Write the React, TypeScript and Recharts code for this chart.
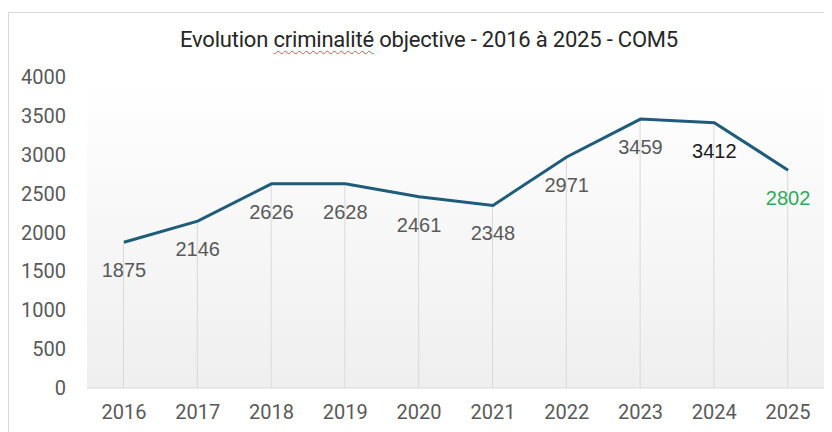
import { ComposedChart, Bar, Line, XAxis, YAxis, CartesianGrid, LabelList } from "recharts";

const years = ["2016", "2017", "2018", "2019", "2020", "2021", "2022", "2023", "2024", "2025"];
const faits = [1875, 2146, 2626, 2628, 2461, 2348, 2971, 3459, 3412, 2802];
const yTicks = [0, 500, 1000, 1500, 2000, 2500, 3000, 3500, 4000];
const labelColors = ["#595959", "#595959", "#595959", "#595959", "#595959", "#595959", "#595959", "#595959", "#1a1a1a", "#2eaa5c"];

const data = years.map((year, i) => ({ year, value: faits[i] }));

const renderLabel = (props: any) => {
    const { x, y, width, value, index } = props;
    const cx = x + (width || 0) / 2;
    return (
        <text
            x={cx}
            y={y + 28}
            textAnchor="middle"
            dominantBaseline="central"
            fontSize={20}
            fontFamily="'Liberation Sans', Arial, sans-serif"
            fill={labelColors[index]}
        >
            {value}
        </text>
    );
};

export default function App() {
    return (
        <div style={{ position: "relative", width: 824, height: 424, overflow: "hidden" }}>

            <div
                style={{
                    position: "absolute",
                    left: 0,
                    top: 4,
                    width: 830,
                    height: 430,
                    borderLeft: "1px solid #d9d9d9",
                    borderTop: "1px solid #d9d9d9"
                }}
            />

            <div
                style={{
                    position: "absolute",
                    left: 21,
                    top: 19,
                    width: 800,
                    textAlign: "center",
                    fontFamily: "Roboto, sans-serif",
                    fontSize: 22,
                    letterSpacing: -0.2,
                    color: "#262626",
                    lineHeight: "26px"
                }}
            >
                Evolution{" "}
                <span style={{ textDecoration: "underline wavy #e05050", textDecorationThickness: 1, textUnderlineOffset: 3 }}>
                    criminalité
                </span>{" "}
                objective - 2016 à 2025 - COM5
            </div>

            <ComposedChart
                width={824}
                height={424}
                data={data}
                margin={{ top: 69, right: 7, left: 0, bottom: 0 }}
                style={{ position: "absolute", left: 0, top: 0 }}
            >
                <defs>
                    <linearGradient id="plotBg" x1="0" y1="0" x2="0" y2="1">
                        <stop offset="0%" stopColor="#ffffff" />
                        <stop offset="100%" stopColor="#efefef" />
                    </linearGradient>
                </defs>

                <CartesianGrid horizontal={false} vertical={false} fill="url(#plotBg)" />

                <XAxis
                    dataKey="year"
                    height={44}
                    axisLine={{ stroke: "#d9d9d9" }}
                    tickLine={false}
                    tickSize={0}
                    tickMargin={17}
                    tick={{ fill: "#595959", fontSize: 20, fontFamily: "Roboto, sans-serif" }}
                    interval={0}
                />

                <YAxis
                    width={79}
                    domain={[0, 4000]}
                    ticks={yTicks}
                    axisLine={false}
                    tickLine={false}
                    tickSize={0}
                    tickMargin={21}
                    tick={{ fill: "#595959", fontSize: 20, fontFamily: "Roboto, sans-serif" }}
                />

                <Bar dataKey="value" barSize={1} fill="#d9d9d9" isAnimationActive={false} />

                <Line
                    type="linear"
                    dataKey="value"
                    stroke="#1f5c7a"
                    strokeWidth={3}
                    dot={false}
                    activeDot={false}
                    isAnimationActive={false}
                >
                    <LabelList dataKey="value" content={renderLabel} />
                </Line>
            </ComposedChart>
        </div>
    );
}
